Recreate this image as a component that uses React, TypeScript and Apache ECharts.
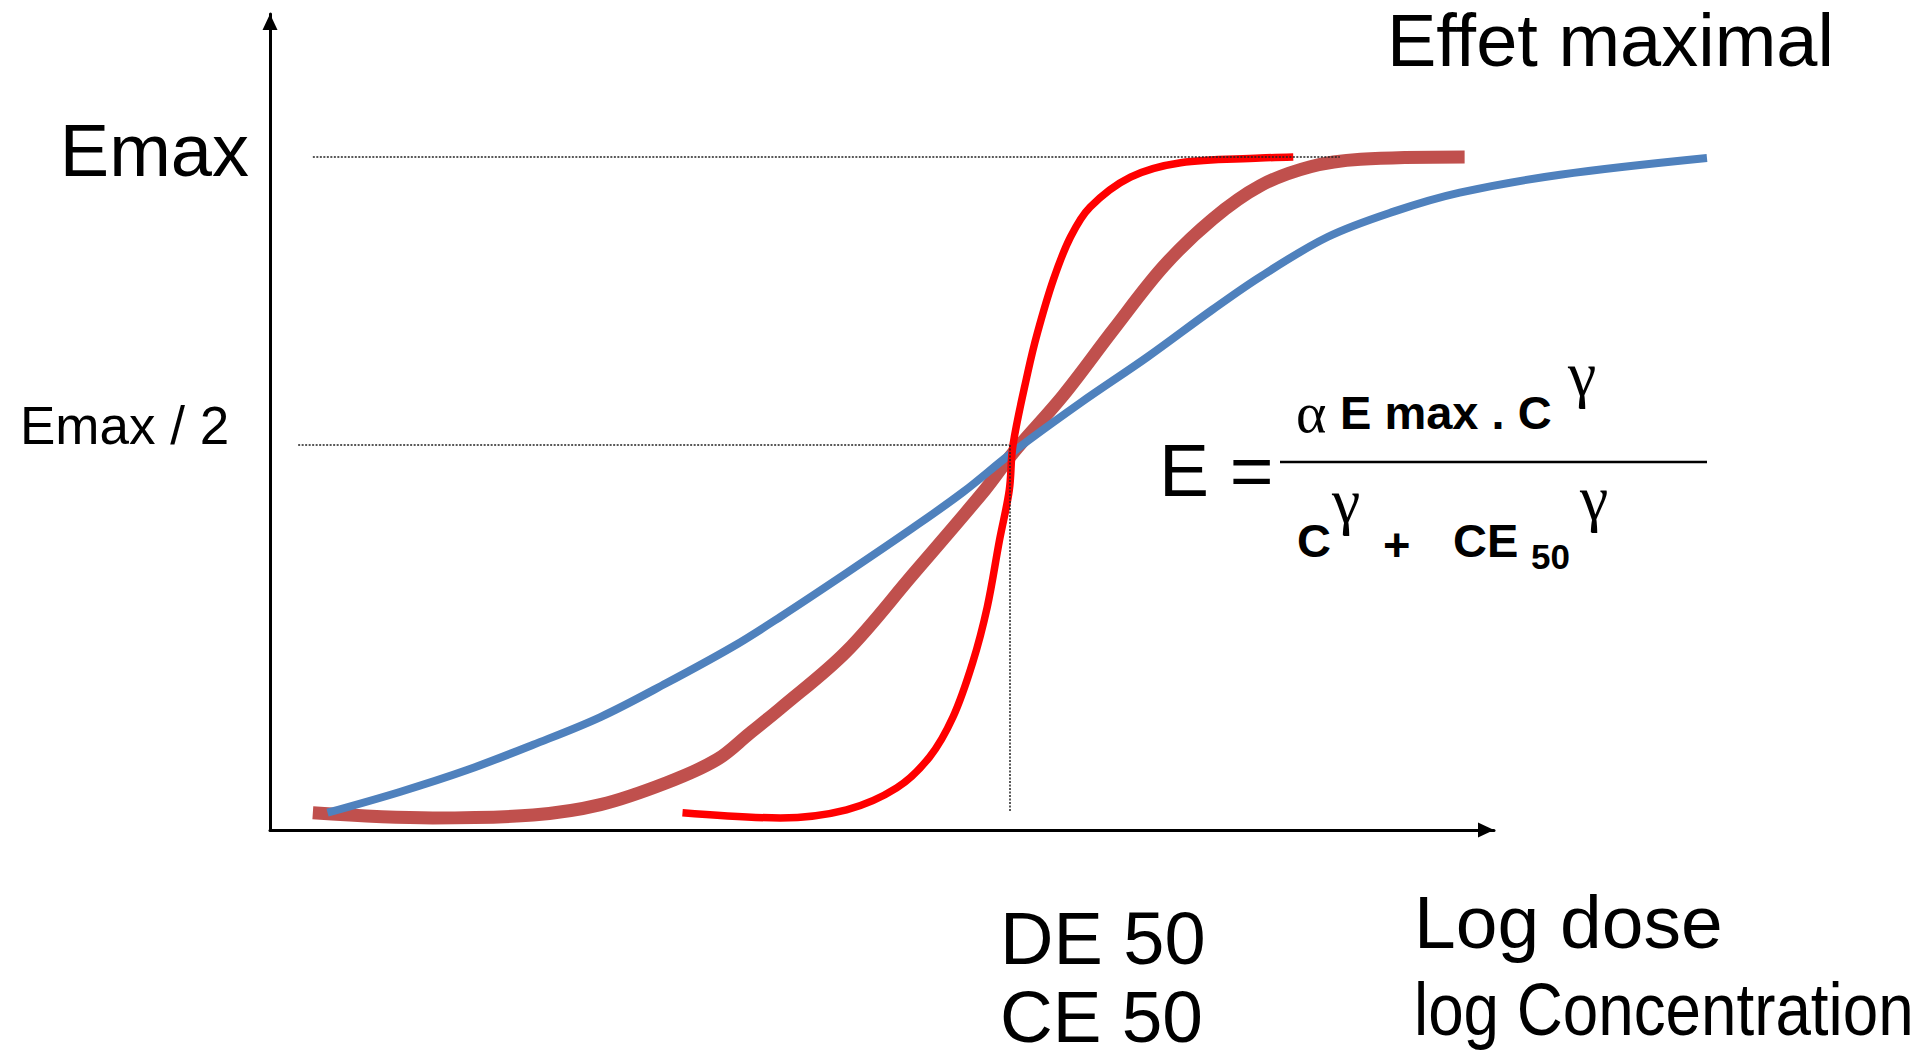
import { useEffect, useRef } from "react";
import * as echarts from "echarts";

// Axis extents: log dose on x, effect (% of Emax) on y
const X_MIN = 0;
const X_MAX = 100;
// The curves run past the arrow of the dose axis
const PLOT_X_MAX = 118.5;
const Y_MIN = -16.8;
const Y_MAX = 124.8;

// Reference levels
const EMAX = 100;
const HALF_EMAX = EMAX / 2;
const CE50 = 60.4;

// Extents of the dotted guides
const EMAX_GUIDE: [number, number] = [3.5, 87.4];
const HALF_GUIDE_START = 2.3;
const DROP_BOTTOM = -13.7;

// Dose-effect curves, [log dose, effect]
const LOW_SLOPE: [number, number][] = [
  [4.7, -13.8], [10.6, -10.2], [16.1, -6.4], [21.5, -2.0], [27.0, 2.8],
  [32.4, 8.7], [37.8, 15.0], [41.7, 20.2], [47.1, 27.8], [52.5, 35.6],
  [56.6, 41.8], [60.7, 48.8], [66.2, 57.3], [71.7, 65.3], [77.0, 73.5],
  [80.9, 79.2], [86.4, 86.1], [91.8, 90.5], [97.2, 93.8], [105.4, 96.9],
  [117.4, 99.8],
];

const MID_SLOPE: [number, number][] = [
  [3.5, -13.8], [13.3, -14.7], [21.5, -14.2], [27.0, -12.4], [32.4, -8.6],
  [36.5, -4.6], [39.2, 0.0], [41.7, 4.3], [47.1, 14.2], [52.5, 27.5],
  [58.4, 42.2], [60.7, 48.6], [64.8, 58.6], [68.9, 70.0], [73.0, 81.0],
  [77.0, 89.2], [80.9, 95.0], [85.0, 98.3], [89.1, 99.6], [97.6, 100],
];

const STEEP_SLOPE: [number, number][] = [
  [33.7, -13.8], [41.7, -14.7], [47.1, -13.3], [51.2, -9.5], [53.9, -4.1],
  [55.8, 2.8], [57.4, 12.2], [58.6, 21.9], [59.6, 33.5], [60.4, 42.2],
  [60.7, 50.0], [61.9, 62.5], [62.7, 69.5], [64.0, 78.7], [65.4, 86.1],
  [67.0, 91.3], [70.3, 96.5], [74.4, 99.0], [80.9, 99.8], [83.6, 100],
];

const SANS = "'Liberation Sans', Arial, sans-serif";
const SERIF = "'Liberation Serif', 'Times New Roman', serif";

// Plot frame in pixels
const GRID_LEFT = 270;
const GRID_TOP = 14;
const FRAME_WIDTH = 1224;
const GRID_HEIGHT = 816;
const PX_PER_X = FRAME_WIDTH / (X_MAX - X_MIN);

function txt(
  text: string,
  x: number,
  y: number,
  fontSize: number,
  opts: { align?: string; bold?: boolean; family?: string; lineHeight?: number; scaleX?: number } = {}
) {
  return {
    type: "text",
    x,
    y,
    scaleX: opts.scaleX ?? 1,
    silent: true,
    z: 20,
    style: {
      text,
      fill: "#000",
      fontSize,
      fontFamily: opts.family ?? SANS,
      fontWeight: opts.bold ? "bold" : "normal",
      align: opts.align ?? "left",
      verticalAlign: "middle",
      lineHeight: opts.lineHeight,
    },
  };
}

function curve(name: string, data: [number, number][], color: string, width: number, z: number) {
  return {
    name,
    type: "line",
    xAxisIndex: 1,
    yAxisIndex: 1,
    data,
    smooth: 0.35,
    symbol: "none",
    silent: true,
    z,
    lineStyle: { color, width, cap: "butt", join: "round" },
  };
}

const hiddenAxis = {
  axisLine: { show: false },
  axisTick: { show: false },
  axisLabel: { show: false },
  splitLine: { show: false },
};

const arrowAxisLine = {
  show: true,
  onZero: false,
  symbol: ["none", "triangle"],
  symbolSize: [15, 16],
  symbolOffset: [0, -8],
  lineStyle: { color: "#000", width: 3 },
};

export default function App() {
  const ref = useRef<HTMLDivElement>(null);

  useEffect(() => {
    if (!ref.current) return;
    const chart = echarts.init(ref.current, null, { renderer: "svg" });

    const guide = { color: "#222", width: 1.5, type: [2, 1.5] };

    const option = {
      animation: false,
      backgroundColor: "#fff",
      grid: [
        { left: GRID_LEFT, top: GRID_TOP, width: FRAME_WIDTH, height: GRID_HEIGHT, containLabel: false },
        {
          left: GRID_LEFT,
          top: GRID_TOP,
          width: (PLOT_X_MAX - X_MIN) * PX_PER_X,
          height: GRID_HEIGHT,
          containLabel: false,
        },
      ],
      xAxis: [
        {
          type: "value",
          gridIndex: 0,
          min: X_MIN,
          max: X_MAX,
          axisLine: arrowAxisLine,
          axisTick: { show: false },
          axisLabel: { show: false },
          splitLine: { show: false },
        },
        { type: "value", gridIndex: 1, min: X_MIN, max: PLOT_X_MAX, ...hiddenAxis },
      ],
      yAxis: [
        {
          type: "value",
          gridIndex: 0,
          min: Y_MIN,
          max: Y_MAX,
          axisLine: arrowAxisLine,
          axisTick: { show: false },
          axisLabel: { show: false },
          splitLine: { show: false },
        },
        { type: "value", gridIndex: 1, min: Y_MIN, max: Y_MAX, ...hiddenAxis },
      ],
      series: [
        {
          name: "guides",
          type: "line",
          xAxisIndex: 1,
          yAxisIndex: 1,
          data: [],
          silent: true,
          z: 1,
          markLine: {
            silent: true,
            symbol: ["none", "none"],
            label: { show: false },
            lineStyle: guide,
            data: [
              [{ coord: [EMAX_GUIDE[0], EMAX] }, { coord: [EMAX_GUIDE[1], EMAX] }],
              [{ coord: [HALF_GUIDE_START, HALF_EMAX] }, { coord: [CE50, HALF_EMAX] }],
              [{ coord: [CE50, HALF_EMAX] }, { coord: [CE50, DROP_BOTTOM] }],
            ],
          },
        },
        curve("γ moyen", MID_SLOPE, "#C0504D", 13, 2),
        curve("γ faible", LOW_SLOPE, "#4F81BD", 8, 3),
        curve("γ élevé", STEEP_SLOPE, "#FF0000", 7.5, 4),
      ],
      graphic: [
        txt("Effet maximal", 1387, 40, 74),
        txt("Emax", 249, 150, 74, { align: "right" }),
        txt("Emax / 2", 20, 425, 53),
        // Hill equation
        txt("E =", 1159, 470, 75),
        {
          type: "line",
          silent: true,
          z: 20,
          shape: { x1: 1280, y1: 462, x2: 1707, y2: 462 },
          style: { stroke: "#000", lineWidth: 2.5 },
        },
        txt("α", 1296, 412, 58, { family: SERIF }),
        txt("E max . C", 1340, 412, 47, { bold: true }),
        txt("γ", 1568, 373, 64, { family: SERIF }),
        txt("C", 1297, 540, 47, { bold: true }),
        txt("γ", 1332, 500, 64, { family: SERIF }),
        txt("+", 1383, 544, 47, { bold: true }),
        txt("CE", 1453, 540, 47, { bold: true }),
        txt("50", 1531, 556, 35, { bold: true }),
        txt("γ", 1580, 497, 64, { family: SERIF }),
        // x-axis annotations
        txt("DE 50", 1000, 938, 74),
        txt("CE 50", 1000, 1016, 73, { lineHeight: 60 }),
        txt("Log dose", 1414, 922, 75),
        txt("log Concentration", 1414, 1009, 75, { lineHeight: 60, scaleX: 0.85 }),
      ],
    };

    chart.setOption(option as any);
    return () => chart.dispose();
  }, []);

  return (
    <div
      ref={ref}
      style={{ position: "fixed", left: 0, top: 0, width: 1920, height: 1060, background: "#fff" }}
    />
  );
}
